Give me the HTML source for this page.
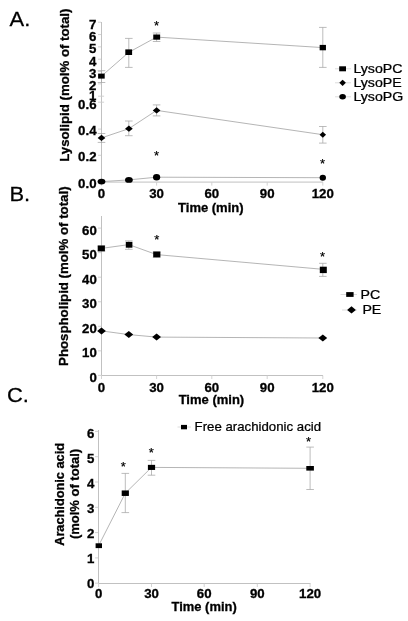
<!DOCTYPE html>
<html lang="en"><head><meta charset="utf-8"><title>Figure</title>
<style>
html,body{margin:0;padding:0;background:#fff;overflow:hidden;}
svg{display:block;}
text{font-family:"Liberation Sans",Arial,Helvetica,sans-serif;fill:#000;}
.b{font-weight:bold;stroke:#000;stroke-width:.3px;}
.r{font-weight:normal;stroke:#000;stroke-width:.25px;}
.a{stroke:#bababa;stroke-width:.9;fill:none;}
.t{stroke:#cecece;stroke-width:.9;fill:none;}
.l{stroke:#9c9c9c;stroke-width:.75;fill:none;}
.e{stroke:#a6a6a6;stroke-width:.75;fill:none;}
.g{stroke:#dcdcdc;stroke-width:1;fill:none;}
.m{fill:#000;}
.s{font-weight:normal;stroke:#000;stroke-width:.2px;}
</style></head><body>
<svg width="408" height="621" viewBox="0 0 408 621">
<rect width="408" height="621" fill="#fff"/>
<g id="panelA">
<text transform="translate(9.6,25.7) scale(1.07,1)" font-size="20.5" text-anchor="start" class="r">A.</text>
<path d="M101.5 22V182.1H323" class="a"/>
<text transform="translate(96.5,28.82) scale(1.06,1)" font-size="12.5" text-anchor="end" class="b">7</text>
<text transform="translate(96.5,41.15) scale(1.06,1)" font-size="12.5" text-anchor="end" class="b">6</text>
<text transform="translate(96.5,53.48) scale(1.06,1)" font-size="12.5" text-anchor="end" class="b">5</text>
<text transform="translate(96.5,65.81) scale(1.06,1)" font-size="12.5" text-anchor="end" class="b">4</text>
<text transform="translate(96.5,78.14) scale(1.06,1)" font-size="12.5" text-anchor="end" class="b">3</text>
<text transform="translate(96.5,90.47) scale(1.06,1)" font-size="12.5" text-anchor="end" class="b">2</text>
<text transform="translate(96.5,100.4) scale(1.06,1)" font-size="12.5" text-anchor="end" class="b">1</text>
<text transform="translate(96.5,109) scale(1.06,1)" font-size="12.5" text-anchor="end" class="b">0.6</text>
<text transform="translate(96.5,134.8) scale(1.06,1)" font-size="12.5" text-anchor="end" class="b">0.4</text>
<text transform="translate(96.5,161.2) scale(1.06,1)" font-size="12.5" text-anchor="end" class="b">0.2</text>
<text transform="translate(96.5,188.2) scale(1.06,1)" font-size="12.5" text-anchor="end" class="b">0.0</text>
<text transform="translate(101.5,198) scale(1.06,1)" font-size="12.5" text-anchor="middle" class="b">0</text>
<text transform="translate(156.6,198) scale(1.06,1)" font-size="12.5" text-anchor="middle" class="b">30</text>
<text transform="translate(211.8,198) scale(1.06,1)" font-size="12.5" text-anchor="middle" class="b">60</text>
<text transform="translate(267.2,198) scale(1.06,1)" font-size="12.5" text-anchor="middle" class="b">90</text>
<text transform="translate(322.8,198) scale(1.06,1)" font-size="12.5" text-anchor="middle" class="b">120</text>
<path d="M98 22.22H101.1M98 34.55H101.1M98 46.88H101.1M98 59.21H101.1M98 71.54H101.1M98 83.87H101.1M98 96.2H104.1M98 102.2H104.1M98 129.1H101.1M98 155.3H101.1M98 181.6H101.1M101.5 182.1v3.5M156.6 182.1v3.5M211.8 182.1v3.5M267.2 182.1v3.5M322.8 182.1v3.5" class="t"/>
<text transform="translate(210.8,211.5) scale(1.04,1)" font-size="12.5" text-anchor="middle" class="b">Time (min)</text>
<text transform="translate(69,85.2) rotate(-90) scale(1.06,1)" font-size="12.5" text-anchor="middle" class="b">Lysolipid (mol% of total)</text>
<path d="M101.5 70.7V82.5M97.7 70.7h7.6M97.7 82.5h7.6" class="e"/>
<path d="M128.8 38.4V67.4M125 38.4h7.6M125 67.4h7.6" class="e"/>
<path d="M156.6 33V41.5M152.8 33h7.6M152.8 41.5h7.6" class="e"/>
<path d="M322.8 27.4V67.4M319 27.4h7.6M319 67.4h7.6" class="e"/>
<path d="M101.5 133.5V142.4M97.7 133.5h7.6M97.7 142.4h7.6" class="e"/>
<path d="M128.8 121V135.7M125 121h7.6M125 135.7h7.6" class="e"/>
<path d="M156.6 104.9V115.9M152.8 104.9h7.6M152.8 115.9h7.6" class="e"/>
<path d="M322.8 126.5V143.1M319 126.5h7.6M319 143.1h7.6" class="e"/>
<polyline points="101.5,76.1 128.8,52.3 156.6,37.1 322.8,47.6" class="l"/>
<polyline points="101.5,137.9 128.8,128.7 156.6,110.4 322.8,134.7" class="l"/>
<polyline points="101.5,181.6 128.8,179.9 156.6,177.2 322.8,177.7" class="l"/>
<g class="m">
<rect x="98.1" y="73.6" width="6.6" height="5"/>
<rect x="125.3" y="49.4" width="6.8" height="5.6"/>
<rect x="153.25" y="34.5" width="6.9" height="5.2"/>
<rect x="319.65" y="44.9" width="6.3" height="5.4"/>
<polygon points="97.65,137.9 101.5,134.75 105.35,137.9 101.5,141.05"/>
<polygon points="125.05,128.7 128.9,125.55 132.75,128.7 128.9,131.85"/>
<polygon points="152.75,110.4 156.6,107.25 160.45,110.4 156.6,113.55"/>
<polygon points="319.55,134.7 322.8,131.65 326.05,134.7 322.8,137.75"/>
<ellipse cx="101.5" cy="181.6" rx="3.9" ry="2.9"/>
<ellipse cx="128.9" cy="179.9" rx="3.9" ry="2.9"/>
<ellipse cx="156.6" cy="177.2" rx="3.6" ry="3.2"/>
<ellipse cx="322.8" cy="177.7" rx="3.2" ry="2.95"/>
</g>
<text transform="translate(156.6,30)" font-size="13" text-anchor="middle" class="s">*</text>
<text transform="translate(156.6,160)" font-size="13" text-anchor="middle" class="s">*</text>
<text transform="translate(322.5,168)" font-size="13" text-anchor="middle" class="s">*</text>
<path d="M335 68.8H351" class="g"/>
<path d="M335 82.8H351" class="g"/>
<path d="M335 96.8H351" class="g"/>
<g class="m"><rect x="339.2" y="66.3" width="6.8" height="5"/><polygon points="339.3,82.8 342.6,79.7 345.9,82.8 342.6,85.9"/><ellipse cx="342.6" cy="96.8" rx="3.3" ry="2.7"/></g>
<text transform="translate(353.4,72.7) scale(1.125,1)" font-size="12.6" text-anchor="start" class="r">LysoPC</text>
<text transform="translate(353.4,86.7) scale(1.125,1)" font-size="12.6" text-anchor="start" class="r">LysoPE</text>
<text transform="translate(353.4,100.7) scale(1.125,1)" font-size="12.6" text-anchor="start" class="r">LysoPG</text>
</g>
<g id="panelB">
<text transform="translate(9.4,200.7) scale(1.07,1)" font-size="20.5" text-anchor="start" class="r">B.</text>
<path d="M101.5 216V375.5H323" class="a"/>
<text transform="translate(96.8,234.7) scale(1.06,1)" font-size="12.5" text-anchor="end" class="b">60</text>
<text transform="translate(96.8,259.25) scale(1.06,1)" font-size="12.5" text-anchor="end" class="b">50</text>
<text transform="translate(96.8,283.8) scale(1.06,1)" font-size="12.5" text-anchor="end" class="b">40</text>
<text transform="translate(96.8,308.35) scale(1.06,1)" font-size="12.5" text-anchor="end" class="b">30</text>
<text transform="translate(96.8,332.9) scale(1.06,1)" font-size="12.5" text-anchor="end" class="b">20</text>
<text transform="translate(96.8,357.45) scale(1.06,1)" font-size="12.5" text-anchor="end" class="b">10</text>
<text transform="translate(96.8,382) scale(1.06,1)" font-size="12.5" text-anchor="end" class="b">0</text>
<text transform="translate(101.5,392) scale(1.06,1)" font-size="12.5" text-anchor="middle" class="b">0</text>
<text transform="translate(156.6,392) scale(1.06,1)" font-size="12.5" text-anchor="middle" class="b">30</text>
<text transform="translate(211.8,392) scale(1.06,1)" font-size="12.5" text-anchor="middle" class="b">60</text>
<text transform="translate(267.2,392) scale(1.06,1)" font-size="12.5" text-anchor="middle" class="b">90</text>
<text transform="translate(322.8,392) scale(1.06,1)" font-size="12.5" text-anchor="middle" class="b">120</text>
<path d="M98 228.1H101.1M98 252.65H101.1M98 277.2H101.1M98 301.75H101.1M98 326.3H101.1M98 350.85H101.1M98 375.4H101.1M101.5 375.5v3.5M156.6 375.5v3.5M211.8 375.5v3.5M267.2 375.5v3.5M322.8 375.5v3.5" class="t"/>
<text transform="translate(211.4,404.4) scale(1.04,1)" font-size="12.5" text-anchor="middle" class="b">Time (min)</text>
<text transform="translate(68,276.2) rotate(-90) scale(1.06,1)" font-size="12.5" text-anchor="middle" class="b">Phospholipid (mol% of total)</text>
<path d="M101.5 246V251M97.7 246h7.6M97.7 251h7.6" class="e"/>
<path d="M128.8 240.9V249.3M125 240.9h7.6M125 249.3h7.6" class="e"/>
<path d="M156.6 252V257.5M152.8 252h7.6M152.8 257.5h7.6" class="e"/>
<path d="M322.8 263.3V276.4M319 263.3h7.6M319 276.4h7.6" class="e"/>
<polyline points="101.5,248.4 128.8,244.6 156.6,254.6 322.8,269.3" class="l"/>
<polyline points="101.5,330.9 128.8,334.6 156.6,337.1 322.8,338" class="l"/>
<g class="m">
<rect x="97.7" y="245.5" width="7.2" height="5.8"/>
<rect x="125.8" y="241.9" width="6.6" height="5.8"/>
<rect x="153.2" y="251.5" width="7.2" height="5.8"/>
<rect x="319.8" y="266.7" width="7" height="6.4"/>
<polygon points="97.1,330.9 101.5,327.4 105.9,330.9 101.5,334.4"/>
<polygon points="124.4,334.6 128.8,331.1 133.2,334.6 128.8,338.1"/>
<polygon points="152.2,337.1 156.6,333.6 161,337.1 156.6,340.6"/>
<polygon points="318.4,338 322.8,334.5 327.2,338 322.8,341.5"/>
</g>
<text transform="translate(156.7,244)" font-size="13" text-anchor="middle" class="s">*</text>
<text transform="translate(322.5,261)" font-size="13" text-anchor="middle" class="s">*</text>
<path d="M340.5 294.5H357" class="g"/><path d="M342 310H357" class="g"/>
<g class="m"><rect x="346.2" y="292.1" width="7.4" height="4.8"/><polygon points="347.1,309.9 351.5,306.3 355.9,309.9 351.5,313.5"/></g>
<text transform="translate(360.5,298.6) scale(1.125,1)" font-size="12.6" text-anchor="start" class="r">PC</text>
<text transform="translate(362.4,314) scale(1.125,1)" font-size="12.6" text-anchor="start" class="r">PE</text>
</g>
<g id="panelC">
<text transform="translate(6.9,401.8) scale(1.07,1)" font-size="20.5" text-anchor="start" class="r">C.</text>
<path d="M98.5 430V583.5H310.5" class="a"/>
<text transform="translate(94.4,438) scale(1.06,1)" font-size="12.5" text-anchor="end" class="b">6</text>
<text transform="translate(94.4,463.3) scale(1.06,1)" font-size="12.5" text-anchor="end" class="b">5</text>
<text transform="translate(94.4,488) scale(1.06,1)" font-size="12.5" text-anchor="end" class="b">4</text>
<text transform="translate(94.4,513.1) scale(1.06,1)" font-size="12.5" text-anchor="end" class="b">3</text>
<text transform="translate(94.4,538.2) scale(1.06,1)" font-size="12.5" text-anchor="end" class="b">2</text>
<text transform="translate(94.4,562.9) scale(1.06,1)" font-size="12.5" text-anchor="end" class="b">1</text>
<text transform="translate(94.4,588) scale(1.06,1)" font-size="12.5" text-anchor="end" class="b">0</text>
<text transform="translate(98.6,598) scale(1.06,1)" font-size="12.5" text-anchor="middle" class="b">0</text>
<text transform="translate(151.5,598) scale(1.06,1)" font-size="12.5" text-anchor="middle" class="b">30</text>
<text transform="translate(204.2,598) scale(1.06,1)" font-size="12.5" text-anchor="middle" class="b">60</text>
<text transform="translate(257.3,598) scale(1.06,1)" font-size="12.5" text-anchor="middle" class="b">90</text>
<text transform="translate(310.1,598) scale(1.06,1)" font-size="12.5" text-anchor="middle" class="b">120</text>
<path d="M95 431.4H98.1M95 456.7H98.1M95 482H98.1M95 507.3H98.1M95 532.6H98.1M95 557.9H98.1M95 583.2H98.1M98.6 583.5v3.5M151.5 583.5v3.5M204.2 583.5v3.5M257.3 583.5v3.5M310.1 583.5v3.5" class="t"/>
<text transform="translate(204.1,611) scale(1.035,1)" font-size="12.5" text-anchor="middle" class="b">Time (min)</text>
<text transform="translate(64.3,494.4) rotate(-90) scale(1.022,1)" font-size="12.5" text-anchor="middle" class="b">Arachidonic acid</text>
<text transform="translate(79.4,494) rotate(-90) scale(1.04,1)" font-size="12.5" text-anchor="middle" class="b">(mol% of total)</text>
<path d="M125.3 473.4V512.6M121.5 473.4h7.6M121.5 512.6h7.6" class="e"/>
<path d="M151.5 460.4V475.2M147.7 460.4h7.6M147.7 475.2h7.6" class="e"/>
<path d="M310.1 447.1V489.5M306.3 447.1h7.6M306.3 489.5h7.6" class="e"/>
<polyline points="98.6,545.7 125.3,493.2 151.5,467.4 310.1,468.3" class="l"/>
<g class="m">
<rect x="95.6" y="543.3" width="6.4" height="4.8"/>
<rect x="121.7" y="490.45" width="7.2" height="5.5"/>
<rect x="147.9" y="464.85" width="7.2" height="5.1"/>
<rect x="306.3" y="466" width="7.6" height="4.6"/>
</g>
<text transform="translate(123.2,471)" font-size="13" text-anchor="middle" class="s">*</text>
<text transform="translate(151.4,457)" font-size="13" text-anchor="middle" class="s">*</text>
<text transform="translate(308.6,446)" font-size="13" text-anchor="middle" class="s">*</text>
<path d="M177.5 427H191" class="g"/>
<g class="m"><rect x="181" y="424.9" width="6" height="4.4"/></g>
<text transform="translate(194.6,431.1) scale(1.085,1)" font-size="12.2" text-anchor="start" class="r">Free arachidonic acid</text>
</g>
</svg>
</body></html>
